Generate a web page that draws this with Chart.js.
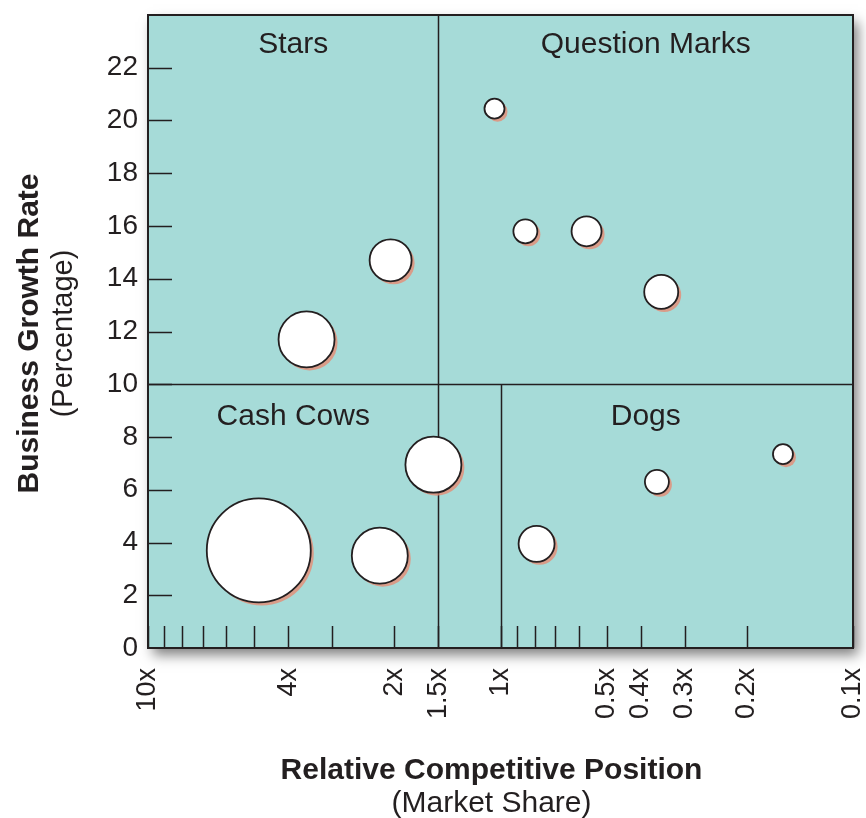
<!DOCTYPE html>
<html>
<head>
<meta charset="utf-8">
<script src="https://cdn.jsdelivr.net/npm/chart.js@4/dist/chart.umd.min.js"></script>
<style>
body { margin: 0; background: #fff; }
#wrap { width: 866px; height: 818px; position: relative; }
</style>
</head>
<body>
<div id="wrap"><canvas id="bcg"></canvas></div>
<script>
// x = relative market share (times), y = business growth rate (%), r = bubble radius (px)
var stars = [
    {x: 2.05, y: 14.7, r: 21},
    {x: 3.55, y: 11.7, r: 28}
];
var questionMarks = [
    {x: 1.04, y: 20.45, r: 10},
    {x: 0.85, y: 15.8, r: 12},
    {x: 0.57, y: 15.8, r: 15},
    {x: 0.35, y: 13.5, r: 17}
];
var cashCows = [
    {x: 4.85, y: 3.7, r: 52},
    {x: 2.2, y: 3.5, r: 28},
    {x: 1.55, y: 6.95, r: 28}
];
var dogs = [
    {x: 0.79, y: 3.95, r: 18},
    {x: 0.36, y: 6.3, r: 12},
    {x: 0.158, y: 7.35, r: 10}
];

var xTicks = [10, 9, 8, 7, 6, 5, 4, 3, 2, 1.5, 1, 0.9, 0.8, 0.7, 0.6, 0.5, 0.4, 0.3, 0.2, 0.1];
var xLabelled = [10, 4, 2, 1.5, 1, 0.5, 0.4, 0.3, 0.2, 0.1];
var yMax = 24;
var yStep = 2;
var yLastLabel = 22;

var quadrantNames = ['Stars', 'Question Marks', 'Cash Cows', 'Dogs'];
var growthSplit = 10;
var shareSplitTop = 1.5;
var shareSplitBottom = 1;

var xTitle = 'Relative Competitive Position';
var xSubtitle = '(Market Share)';
var yTitle = 'Business Growth Rate';
var ySubtitle = '(Percentage)';

var teal = '#a6dbd8';
var ink = '#231f20';
var salmon = 'rgba(230,140,118,0.8)';
var fontFamily = '"Liberation Sans", Arial, Helvetica, sans-serif';

//================================================================================
// plugin: plot background, inner ticks, quadrant lines, labels, titles
//================================================================================

var matrixPlugin = {
    id: 'matrix',
    beforeDraw: function (chart) {
        var a = chart.chartArea;
        var ctx = chart.ctx;
        ctx.save();
        ctx.shadowColor = 'rgba(0,0,0,0.5)';
        ctx.shadowBlur = 12;
        ctx.shadowOffsetX = 5;
        ctx.shadowOffsetY = 7;
        ctx.fillStyle = teal;
        ctx.fillRect(a.left, a.top, a.right - a.left, a.bottom - a.top);
        ctx.restore();
    },
    beforeDatasetsDraw: function (chart) {
        var a = chart.chartArea;
        var ctx = chart.ctx;
        var xs = chart.scales.x;
        var ys = chart.scales.y;
        ctx.save();
        ctx.strokeStyle = ink;
        ctx.lineWidth = 1.5;

        //inner ticks
        ctx.beginPath();
        for (var i = 0; i < xTicks.length; i++) {
            var px = Math.round(xs.getPixelForValue(xTicks[i])) + 0.5;
            ctx.moveTo(px, a.bottom);
            ctx.lineTo(px, a.bottom - 22);
        }
        for (var v = yStep; v < yMax; v += yStep) {
            var py = Math.round(ys.getPixelForValue(v)) + 0.5;
            ctx.moveTo(a.left, py);
            ctx.lineTo(a.left + 24, py);
        }
        ctx.stroke();

        //quadrant lines
        var yMid = Math.round(ys.getPixelForValue(growthSplit)) + 0.5;
        var xTop = Math.round(xs.getPixelForValue(shareSplitTop)) + 0.5;
        var xBot = Math.round(xs.getPixelForValue(shareSplitBottom)) + 0.5;
        ctx.beginPath();
        ctx.moveTo(a.left, yMid);
        ctx.lineTo(a.right, yMid);
        ctx.moveTo(xTop, a.top);
        ctx.lineTo(xTop, a.bottom);
        ctx.moveTo(xBot, yMid);
        ctx.lineTo(xBot, a.bottom);
        ctx.stroke();

        //frame
        ctx.lineWidth = 2;
        ctx.strokeRect(a.left, a.top, a.right - a.left, a.bottom - a.top);

        //quadrant names
        ctx.fillStyle = ink;
        ctx.font = '30px ' + fontFamily;
        ctx.textAlign = 'center';
        ctx.textBaseline = 'middle';
        var leftMid = (a.left + xTop) / 2;
        var rightMid = (xTop + a.right) / 2;
        ctx.fillText(quadrantNames[0], leftMid, a.top + 30);
        ctx.fillText(quadrantNames[1], rightMid, a.top + 30);
        ctx.fillText(quadrantNames[2], leftMid, yMid + 32);
        ctx.fillText(quadrantNames[3], rightMid, yMid + 32);

        //bubble shadows, taken from the elements the library placed
        ctx.fillStyle = salmon;
        chart.data.datasets.forEach(function (ds, di) {
            chart.getDatasetMeta(di).data.forEach(function (el) {
                ctx.beginPath();
                ctx.arc(el.x + 3, el.y + 3, el.options.radius, 0, Math.PI * 2);
                ctx.fill();
            });
        });
        ctx.restore();
    },
    afterDraw: function (chart) {
        var a = chart.chartArea;
        var ctx = chart.ctx;
        ctx.save();
        ctx.fillStyle = ink;
        ctx.textAlign = 'center';
        ctx.textBaseline = 'middle';

        var cx = (a.left + a.right) / 2 - 9;
        ctx.font = 'bold 30px ' + fontFamily;
        ctx.fillText(xTitle, cx, a.bottom + 123);
        ctx.font = '30px ' + fontFamily;
        ctx.fillText(xSubtitle, cx, a.bottom + 156);

        var cy = (a.top + a.bottom) / 2 + 2;
        ctx.translate(30, cy);
        ctx.rotate(-Math.PI / 2);
        ctx.font = 'bold 30px ' + fontFamily;
        ctx.fillText(yTitle, 0, 0);
        ctx.font = '29px ' + fontFamily;
        ctx.fillText(ySubtitle, 0, 34);
        ctx.restore();
    }
};

function bubbleSet(label, points) {
    return {
        label: label,
        data: points,
        backgroundColor: '#ffffff',
        borderColor: ink,
        borderWidth: 1.8,
        hoverRadius: 0
    };
}

new Chart(document.getElementById('bcg'), {
    type: 'bubble',
    data: {
        datasets: [
            bubbleSet(quadrantNames[0], stars),
            bubbleSet(quadrantNames[1], questionMarks),
            bubbleSet(quadrantNames[2], cashCows),
            bubbleSet(quadrantNames[3], dogs)
        ]
    },
    options: {
        responsive: true,
        maintainAspectRatio: false,
        animation: false,
        events: [],
        layout: {
            autoPadding: false,
            padding: { top: 15, right: 13, left: 0, bottom: 0 }
        },
        plugins: {
            legend: { display: false },
            tooltip: { enabled: false }
        },
        scales: {
            x: {
                type: 'logarithmic',
                min: 0.1,
                max: 10,
                reverse: true,
                border: { display: false },
                grid: { display: false, drawTicks: false },
                afterBuildTicks: function (scale) {
                    scale.ticks = xTicks.map(function (v) { return {value: v}; });
                },
                afterFit: function (scale) {
                    scale.height = 170;
                    scale.paddingLeft = 0;
                    scale.paddingRight = 0;
                },
                ticks: {
                    autoSkip: false,
                    minRotation: 90,
                    maxRotation: 90,
                    padding: 20,
                    color: ink,
                    font: { family: fontFamily, size: 27 },
                    callback: function (value) {
                        return xLabelled.indexOf(value) >= 0 ? value + 'x' : '';
                    }
                }
            },
            y: {
                min: 0,
                max: yMax,
                border: { display: false },
                grid: { display: false, drawTicks: false },
                afterFit: function (scale) {
                    scale.width = 148;
                    scale.paddingTop = 0;
                    scale.paddingBottom = 0;
                },
                ticks: {
                    stepSize: yStep,
                    padding: 10,
                    color: ink,
                    font: { family: fontFamily, size: 28 },
                    callback: function (value) {
                        return value <= yLastLabel ? String(value) : '';
                    }
                }
            }
        }
    },
    plugins: [matrixPlugin]
});
</script>
</body>
</html>
